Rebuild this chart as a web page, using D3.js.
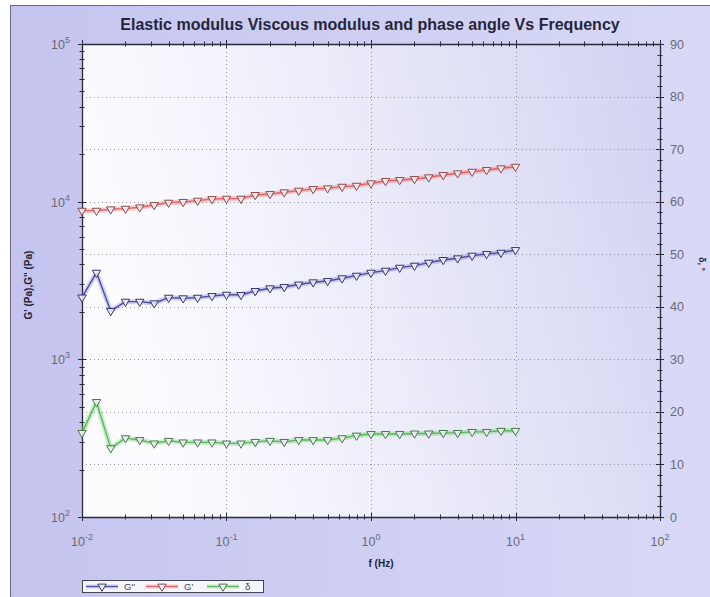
<!DOCTYPE html>
<html>
<head>
<meta charset="utf-8">
<script src="https://cdn.jsdelivr.net/npm/d3@7"></script>
<style>
  html, body { margin: 0; padding: 0; background: #ffffff; }
  svg { display: block; font-family: "Liberation Sans", Arial, sans-serif; }
</style>
</head>
<body>
<svg id="chart" width="710" height="597"></svg>
<script>
// Oscillatory frequency sweep: storage modulus, loss modulus and phase angle
const frequency = [0.01, 0.0126, 0.0158, 0.02, 0.0251, 0.0316, 0.0398, 0.0501, 0.0631, 0.0794,
                   0.1, 0.126, 0.158, 0.2, 0.251, 0.316, 0.398, 0.501, 0.631, 0.794,
                   1, 1.26, 1.58, 2, 2.51, 3.16, 3.98, 5.01, 6.31, 7.94, 10];
const storageModulus = [8770, 8770, 8950, 9030, 9210, 9530, 9860, 9960, 10150, 10400,
                        10450, 10450, 11030, 11190, 11470, 11750, 12040, 12160, 12450, 12630,
                        13080, 13530, 13730, 13930, 14280, 14770, 15140, 15500, 15890, 16280, 16670];
const lossModulus = [2470, 3546, 2027, 2322, 2322, 2268, 2462, 2441, 2462, 2523,
                     2572, 2560, 2715, 2825, 2878, 2985, 3082, 3141, 3268, 3394,
                     3546, 3652, 3815, 3928, 4104, 4269, 4376, 4546, 4661, 4748, 4939];
const phaseAngle = [16.0, 21.9, 13.1, 15.0, 14.65, 14.0, 14.5, 14.2, 14.2, 14.2,
                    14.0, 14.0, 14.3, 14.5, 14.3, 14.65, 14.65, 14.65, 15.0, 15.5,
                    15.8, 15.8, 15.8, 15.9, 15.9, 16.0, 16.0, 16.2, 16.2, 16.4, 16.4];

const xTickValues = [0.01, 0.1, 1, 10, 100];
const xTickExponents = ["-2", "-1", "0", "1", "2"];
const leftTickValues = [100, 1000, 10000, 100000];
const leftTickExponents = ["2", "3", "4", "5"];
const rightTickValues = [0, 10, 20, 30, 40, 50, 60, 70, 80, 90];
const legendLabels = ["G''", "G'", "δ"];

const titleText = "Elastic modulus Viscous modulus and phase angle Vs Frequency";
const xLabel = "f (Hz)";
const leftLabel = "G' (Pa),G'' (Pa)";
const rightLabel = "δ, °";

const W = 710, H = 597;
const plot = { left: 82, right: 660, top: 44, bottom: 517 };

const svg = d3.select("#chart");
const defs = svg.append("defs");

// Outer panel gradient
const pg = defs.append("linearGradient").attr("id", "panelGrad")
  .attr("x1", "0").attr("y1", "0").attr("x2", "1").attr("y2", "0");
pg.append("stop").attr("offset", "0").attr("stop-color", "#c4c4ef");
pg.append("stop").attr("offset", "1").attr("stop-color", "#d9d9f7");

// Plot area gradient: near white on the left, lavender on the right
const ag = defs.append("linearGradient").attr("id", "areaGrad")
  .attr("x1", "0").attr("y1", "0.2").attr("x2", "1").attr("y2", "0");
ag.append("stop").attr("offset", "0").attr("stop-color", "#fcfcff");
ag.append("stop").attr("offset", "0.35").attr("stop-color", "#efeffb");
ag.append("stop").attr("offset", "1").attr("stop-color", "#d2d2f2");

svg.append("rect").attr("x", 10.5).attr("y", 5.5).attr("width", W).attr("height", H)
  .attr("fill", "url(#panelGrad)").attr("stroke", "#6a6a80").attr("stroke-width", 1);

const x = d3.scaleLog().domain([0.01, 100]).range([plot.left, plot.right]);
const yL = d3.scaleLog().domain([100, 100000]).range([plot.bottom, plot.top]);
const yR = d3.scaleLinear().domain([0, 90]).range([plot.bottom, plot.top]);

svg.append("rect").attr("x", plot.left).attr("y", plot.top)
  .attr("width", plot.right - plot.left).attr("height", plot.bottom - plot.top)
  .attr("fill", "url(#areaGrad)");

// Grid
const grid = svg.append("g");
grid.selectAll("line.h").data(rightTickValues.slice(1, -1)).join("line")
  .attr("x1", plot.left).attr("x2", plot.right)
  .attr("y1", d => Math.round(yR(d)) + 0.5).attr("y2", d => Math.round(yR(d)) + 0.5)
  .attr("stroke", "#9494aa").attr("stroke-width", 1).attr("stroke-dasharray", "1,3");
grid.selectAll("line.v").data(xTickValues.slice(1, -1)).join("line")
  .attr("y1", plot.top).attr("y2", plot.bottom)
  .attr("x1", d => Math.round(x(d)) + 0.5).attr("x2", d => Math.round(x(d)) + 0.5)
  .attr("stroke", "#9494aa").attr("stroke-width", 1).attr("stroke-dasharray", "1,3");

// Axes (ticks cross the frame lines)
const axisColor = "#2a2a3a";
function styleAxis(g) {
  g.select(".domain").attr("stroke", axisColor).attr("stroke-width", 1.3);
  g.selectAll(".tick line").attr("stroke", axisColor);
  g.selectAll(".tick text").remove();
}
function logMinor(lo, hi) {
  const out = [];
  for (let e = lo; e < hi; e++) for (let k = 1; k < 10; k++) out.push(k * Math.pow(10, e));
  out.push(Math.pow(10, hi));
  return out;
}
const xMinor = logMinor(-2, 2);
const yMinor = logMinor(2, 5);

function crossTicks(g, vals, scale, orient, len) {
  g.selectAll(null).data(vals).join("line")
    .attr("stroke", axisColor).attr("stroke-width", 1)
    .each(function (d) {
      const p = Math.round(scale(d)) + 0.5;
      const s = d3.select(this);
      if (orient === "h") s.attr("x1", p).attr("x2", p).attr("y1", -len).attr("y2", len);
      else s.attr("y1", p).attr("y2", p).attr("x1", -len).attr("x2", len);
    });
}

const bottomG = svg.append("g").attr("transform", `translate(0,${plot.bottom})`);
bottomG.call(d3.axisBottom(x).tickValues([]).tickSizeOuter(0)).call(styleAxis);
crossTicks(bottomG, xMinor, x, "h", 2.5);
crossTicks(bottomG, xTickValues, x, "h", 4);

const topG = svg.append("g").attr("transform", `translate(0,${plot.top})`);
topG.call(d3.axisTop(x).tickValues([]).tickSizeOuter(0)).call(styleAxis);
crossTicks(topG, xMinor, x, "h", 2.5);
crossTicks(topG, xTickValues, x, "h", 4);

const leftG = svg.append("g").attr("transform", `translate(${plot.left},0)`);
leftG.call(d3.axisLeft(yL).tickValues([]).tickSizeOuter(0)).call(styleAxis);
crossTicks(leftG, yMinor, yL, "v", 2.5);
crossTicks(leftG, leftTickValues, yL, "v", 4);

const rightG = svg.append("g").attr("transform", `translate(${plot.right},0)`);
rightG.call(d3.axisRight(yR).tickValues([]).tickSizeOuter(0)).call(styleAxis);
crossTicks(rightG, d3.range(0, 91, 2), yR, "v", 2.5);
crossTicks(rightG, rightTickValues, yR, "v", 4);

// Tick labels
const tickColor = "#6a6a74";
function powerLabel(sel, exps) {
  sel.text("10").append("tspan").attr("dy", -6).attr("font-size", 9)
    .text((d, i) => exps[i]);
}
svg.append("g").selectAll("text").data(xTickValues).join("text")
  .attr("x", d => x(d)).attr("y", 546).attr("text-anchor", "middle")
  .attr("font-size", 12.5).attr("fill", tickColor)
  .call(powerLabel, xTickExponents);
svg.append("g").selectAll("text").data(leftTickValues).join("text")
  .attr("x", 70).attr("y", d => yL(d) + 5).attr("text-anchor", "end")
  .attr("font-size", 12.5).attr("fill", tickColor)
  .call(powerLabel, leftTickExponents);
svg.append("g").selectAll("text").data(rightTickValues).join("text")
  .attr("x", 670).attr("y", d => yR(d) + 4.5).attr("text-anchor", "start")
  .attr("font-size", 12.5).attr("fill", tickColor)
  .text(d => d);

// Titles
const title = svg.append("text").attr("x", 370).attr("y", 30).attr("text-anchor", "middle")
  .attr("font-weight", "bold").attr("font-size", 13).attr("fill", "#26263a").text(titleText);
const tw = title.node().getComputedTextLength();
title.attr("font-size", 13 * 500 / tw);

svg.append("text").attr("x", 381).attr("y", 567).attr("text-anchor", "middle")
  .attr("font-weight", "bold").attr("font-size", 10).attr("fill", "#222233").text(xLabel);
svg.append("text").attr("transform", "translate(32,285) rotate(-90)").attr("text-anchor", "middle")
  .attr("font-weight", "bold").attr("font-size", 10).attr("fill", "#222233").text(leftLabel);
svg.append("text").attr("transform", "translate(699,264) rotate(90)").attr("text-anchor", "middle")
  .attr("font-weight", "bold").attr("font-size", 9).attr("fill", "#222233").text(rightLabel);

// Series
const series = [
  { values: lossModulus, y: yL, line: "#4c4ca0", halo: "rgba(110,110,210,0.30)", mark: "#363670" },
  { values: storageModulus, y: yL, line: "#e06464", halo: "rgba(245,130,130,0.40)", mark: "#8c4a4a" },
  { values: phaseAngle, y: yR, line: "#5cb85c", halo: "rgba(130,215,130,0.45)", mark: "#4a744a" }
];
const tri = d3.symbol().type(d3.symbolTriangle).size(30);
const plotG = svg.append("g");
series.forEach(s => {
  const pts = frequency.map((f, i) => [x(f), s.y(s.values[i])]);
  const line = d3.line();
  plotG.append("path").attr("d", line(pts)).attr("fill", "none")
    .attr("stroke", s.halo).attr("stroke-width", 5).attr("stroke-linejoin", "round");
  plotG.append("path").attr("d", line(pts)).attr("fill", "none")
    .attr("stroke", s.line).attr("stroke-width", 1.4).attr("stroke-linejoin", "round");
  plotG.append("g").selectAll("path").data(pts).join("path")
    .attr("d", tri)
    .attr("transform", d => `translate(${d[0]},${d[1]}) rotate(180)`)
    .attr("fill", "#f3f3fb").attr("fill-opacity", 0.85)
    .attr("stroke", s.mark).attr("stroke-width", 1);
});

// Legend
const lg = svg.append("g");
lg.append("rect").attr("x", 82.5).attr("y", 580.5).attr("width", 181).attr("height", 12)
  .attr("fill", "#f6f6fd").attr("stroke", "#444455").attr("stroke-width", 1);
const legendX = [86, 146, 207];
series.forEach((s, i) => {
  const x0 = legendX[i], yy = 586.5;
  lg.append("line").attr("x1", x0).attr("x2", x0 + 32).attr("y1", yy).attr("y2", yy)
    .attr("stroke", s.halo).attr("stroke-width", 4);
  lg.append("line").attr("x1", x0).attr("x2", x0 + 32).attr("y1", yy).attr("y2", yy)
    .attr("stroke", s.line).attr("stroke-width", 1.2);
  lg.append("path").attr("d", tri).attr("transform", `translate(${x0 + 16},${yy}) rotate(180)`)
    .attr("fill", "#f3f3fb").attr("stroke", s.mark).attr("stroke-width", 1);
  lg.append("text").attr("x", x0 + 38).attr("y", yy + 3.5).attr("font-size", 9.5)
    .attr("fill", "#444455").text(legendLabels[i]);
});
</script>
</body>
</html>
